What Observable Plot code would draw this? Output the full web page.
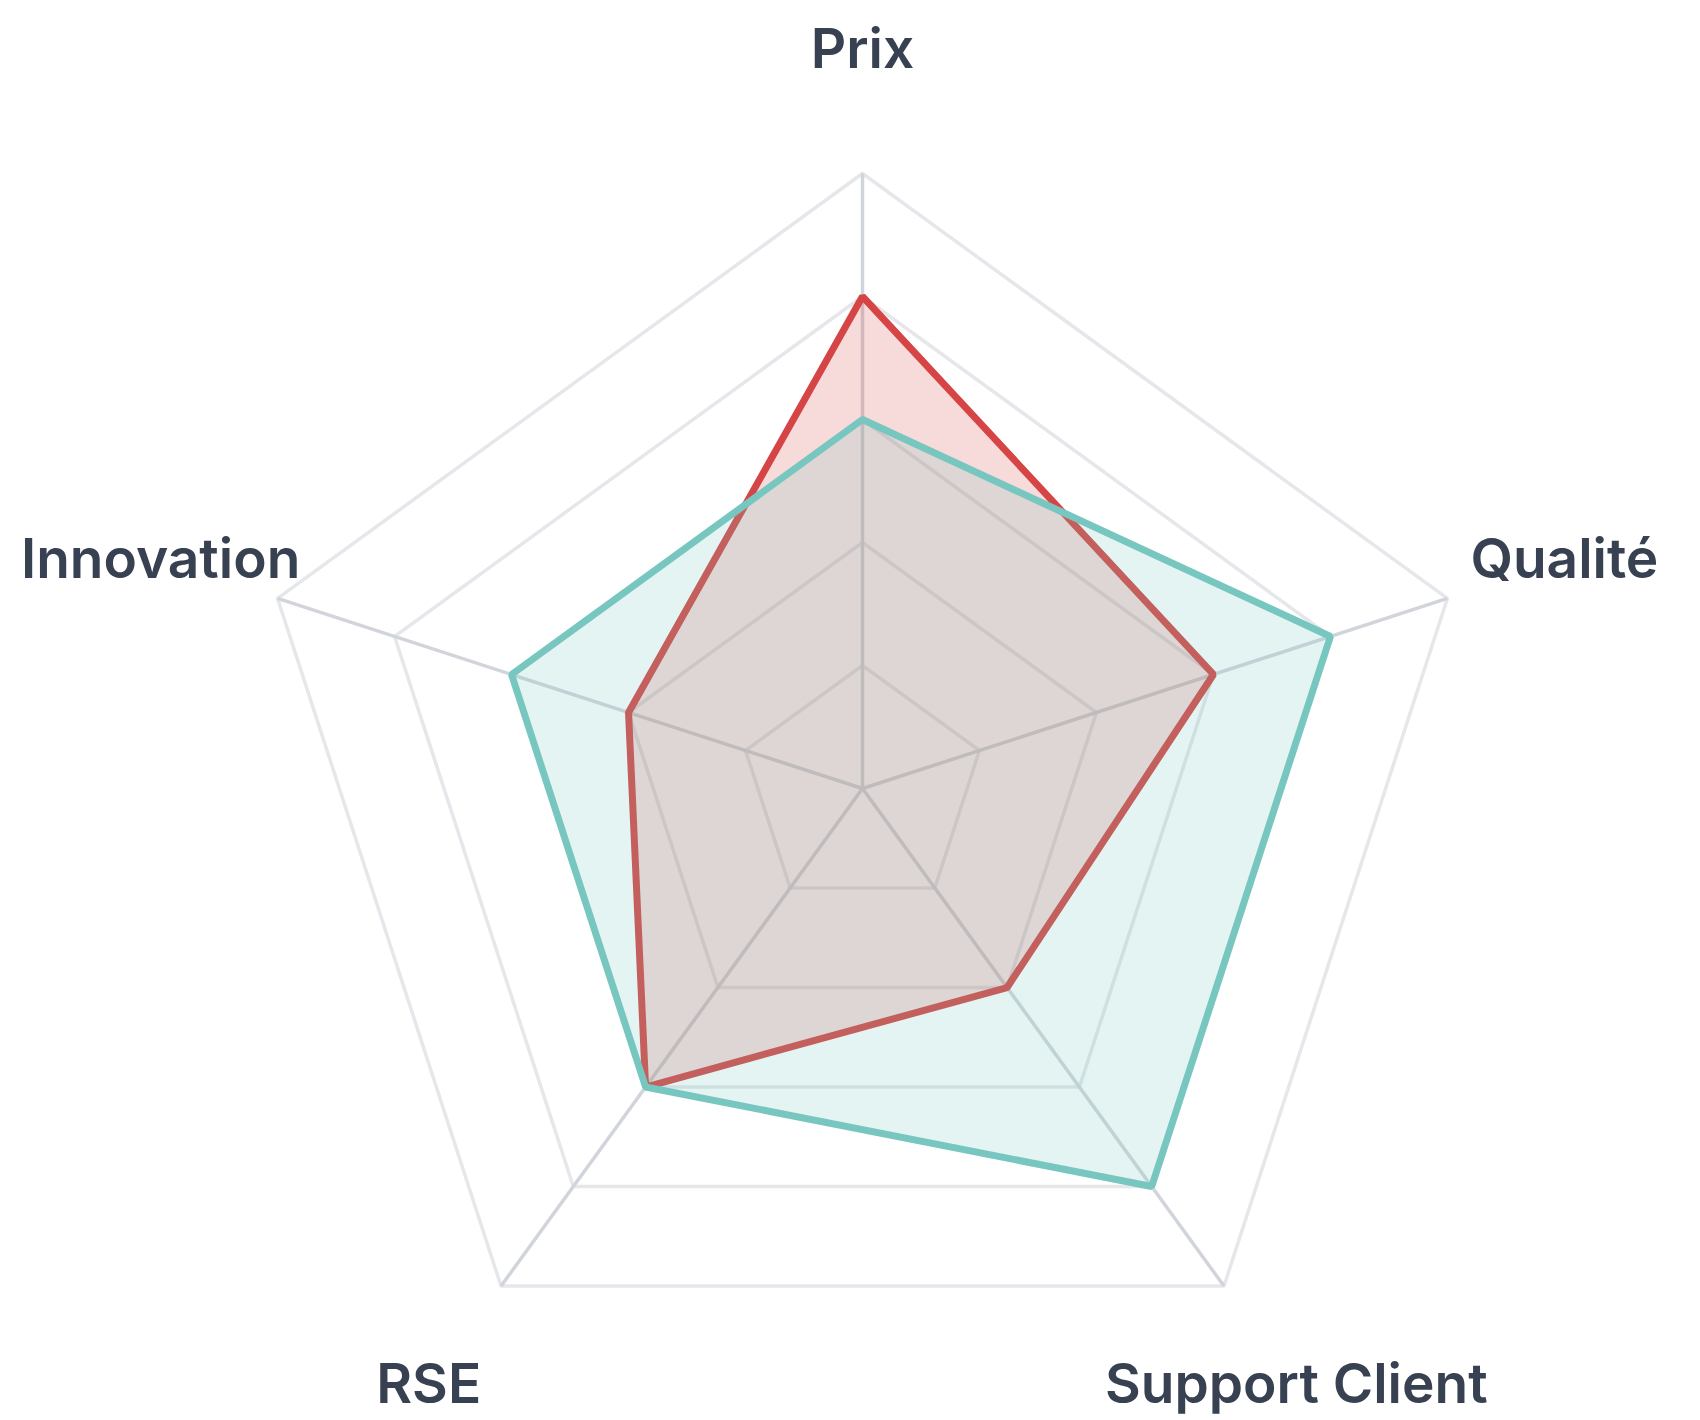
<!DOCTYPE html>
<html>
<head>
<meta charset="utf-8">
<script src="https://cdn.jsdelivr.net/npm/d3@7"></script>
<script src="https://cdn.jsdelivr.net/npm/@observablehq/plot@0.6"></script>
<style>
  html, body { margin: 0; padding: 0; background: #ffffff; }
  #chart svg { display: block; }
</style>
</head>
<body>
<div id="chart"></div>
<script>
const axes = ["Prix", "Qualité", "Support Client", "RSE", "Innovation"];
const serieA = [4, 3, 2, 3, 2];   // rouge
const serieB = [3, 4, 4, 3, 3];   // turquoise
const levels = [1, 2, 3, 4, 5];
const maxValue = 5;
const labelValue = 6;

const ang = i => i * 2 * Math.PI / axes.length;
const px = (v, i) => v * Math.sin(ang(i));
const py = (v, i) => v * Math.cos(ang(i));

const ringData = levels.flatMap(l => axes.map((a, i) => ({level: l, i})));
const spokeData = axes.map((a, i) => ({axis: a, i}));
const toRows = (vals, name) => vals.map((v, i) => ({serie: name, axis: axes[i], i, value: v}));
const rowsA = toRows(serieA, "A");
const rowsB = toRows(serieB, "B");

const unit = 123;
const cx = 862, cy = 788, W = 1700, H = 1420;

const chart = Plot.plot({
  width: W,
  height: H,
  margin: 0,
  style: {fontFamily: "Inter, 'Noto Sans', sans-serif", background: "#ffffff"},
  x: {domain: [-cx / unit, (W - cx) / unit], range: [0, W], axis: null},
  y: {domain: [-(H - cy) / unit, cy / unit], range: [H, 0], axis: null},
  marks: [
    Plot.line(ringData, {
      x: d => px(d.level, d.i), y: d => py(d.level, d.i), z: "level",
      curve: "linear-closed", stroke: "#e5e7eb", strokeWidth: 3.5
    }),
    Plot.link(spokeData, {
      x1: () => 0, y1: () => 0,
      x2: d => px(maxValue, d.i), y2: d => py(maxValue, d.i),
      stroke: "#d1d5db", strokeWidth: 3.5
    }),
    Plot.line(rowsA, {
      x: d => px(d.value, d.i), y: d => py(d.value, d.i),
      curve: "linear-closed", stroke: "#d64545", strokeWidth: 7,
      fill: "#d64545", fillOpacity: 0.2, strokeLinejoin: "miter"
    }),
    Plot.line(rowsB, {
      x: d => px(d.value, d.i), y: d => py(d.value, d.i),
      curve: "linear-closed", stroke: "#78c6c0", strokeWidth: 7,
      fill: "#78c6c0", fillOpacity: 0.2, strokeLinejoin: "miter"
    }),
    Plot.text(spokeData, {
      x: d => px(labelValue, d.i), y: d => py(labelValue, d.i),
      text: "axis", fontSize: 55, fontWeight: 600, fill: "#374151"
    })
  ]
});
document.getElementById("chart").append(chart);
</script>
</body>
</html>
